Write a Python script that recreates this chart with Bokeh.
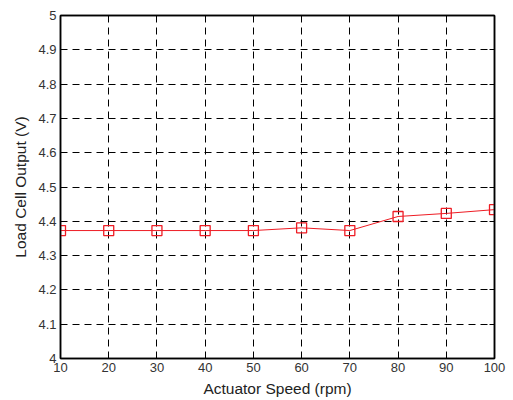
from bokeh.plotting import figure
from bokeh.models import LinearAxis, FixedTicker, Range1d
from bokeh.embed import file_html
from bokeh.resources import INLINE

speed = [10, 20, 30, 40, 50, 60, 70, 80, 90, 100]
output = [4.373, 4.373, 4.373, 4.373, 4.373, 4.381, 4.373, 4.414, 4.423, 4.434]
x_ticks = [10, 20, 30, 40, 50, 60, 70, 80, 90, 100]
y_ticks = [4.0, 4.1, 4.2, 4.3, 4.4, 4.5, 4.6, 4.7, 4.8, 4.9, 5.0]

p = figure(width=513, height=400, output_backend="svg", toolbar_location=None,
           x_range=Range1d(10, 100), y_range=Range1d(4, 5),
           min_border_left=60, min_border_right=19, min_border_top=15, min_border_bottom=42)
p.background_fill_color = "white"
p.border_fill_color = "white"
p.outline_line_color = "black"
p.outline_line_width = 1.5

p.line(speed, output, line_color="#ee1c24", line_width=1)
p.scatter(speed, output, marker="square", size=10, fill_color=None,
          line_color="#ee1c24", line_width=1.3)

font = "Liberation Sans"
for ax in [p.xaxis[0], p.yaxis[0]]:
    ax.major_tick_in = 5
    ax.major_tick_out = 0
    ax.minor_tick_line_color = None
    ax.axis_line_color = "black"
    ax.axis_line_width = 1.5
    ax.major_label_text_font = font
    ax.major_label_text_font_size = "13px"
    ax.major_label_text_color = "#333333"
    ax.axis_label_text_font = font
    ax.axis_label_text_font_size = "15.5px"
    ax.axis_label_text_font_style = "normal"
    ax.axis_label_text_color = "#222222"

p.xaxis[0].ticker = FixedTicker(ticks=x_ticks)
p.yaxis[0].ticker = FixedTicker(ticks=y_ticks)
p.xaxis[0].major_label_overrides = {t: str(t) for t in x_ticks}
p.yaxis[0].major_label_overrides = {t: ("%g" % t) for t in y_ticks}
p.xaxis[0].axis_label = "Actuator Speed (rpm)"
p.yaxis[0].axis_label = "Load Cell Output (V)"
p.xaxis[0].major_label_standoff = 4
p.xaxis[0].axis_label_standoff = 5
p.yaxis[0].major_label_standoff = 4
p.yaxis[0].axis_label_standoff = 6

for loc, tk in [("right", y_ticks), ("above", x_ticks)]:
    a = LinearAxis(ticker=FixedTicker(ticks=tk), major_label_text_color=None,
                   major_tick_in=5, major_tick_out=0, minor_tick_line_color=None,
                   axis_line_color="black", axis_line_width=1.5)
    p.add_layout(a, loc)

for g in [p.xgrid[0], p.ygrid[0]]:
    g.grid_line_color = "black"
    g.grid_line_dash = "7 5"
    g.grid_line_width = 1
p.xgrid[0].ticker = FixedTicker(ticks=x_ticks)
p.ygrid[0].ticker = FixedTicker(ticks=y_ticks)

open("out.html", "w").write(file_html(p, INLINE))
